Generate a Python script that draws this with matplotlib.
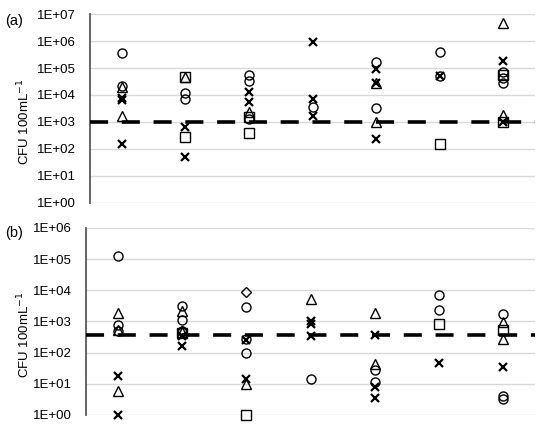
import numpy as np
import matplotlib.pyplot as plt

plt.rcParams['font.family'] = ['Liberation Sans', 'DejaVu Sans']

# sampling sites 1..7 (no labels on the x axis)
n_sites = 7

# panel (a) values, CFU 100mL-1
a_circle_x = [1, 1, 2, 2, 3, 3, 3, 4, 5, 5, 6, 6, 7, 7, 7]
a_circle_y = [3.5e5, 2.1e4, 1.15e4, 7e3, 5.5e4, 3.4e4, 1.3e3, 3.5e3, 1.7e5, 3.2e3, 4e5, 5e4, 7.2e4, 4.4e4, 2.7e4]
a_tri_x = [1, 1, 2, 3, 5, 5, 7, 7]
a_tri_y = [1.9e4, 1.6e3, 4.8e4, 2.3e3, 2.8e4, 1e3, 4.5e6, 1.8e3]
a_sq_x = [2, 2, 3, 3, 6, 7, 7]
a_sq_y = [4.8e4, 270, 1.5e3, 380, 150, 5.5e4, 1e3]
a_x_x = [1, 1, 1, 2, 2, 3, 3, 4, 4, 4, 5, 5, 5, 6, 7, 7]
a_x_y = [8e3, 6.6e3, 155, 680, 52, 1.3e4, 5.5e3, 9e5, 6.9e3, 1.7e3, 8.9e4, 2.8e4, 230, 5.2e4, 1.85e5, 1e3]
a_limit = 1e3

# panel (b) values
b_circle_x = [1, 1, 1, 2, 2, 2, 3, 3, 3, 4, 5, 5, 6, 6, 7, 7, 7]
b_circle_y = [1.3e5, 780, 500, 3.2e3, 1.1e3, 500, 2.9e3, 275, 96, 14, 28, 11, 7.2e3, 2.4e3, 1.7e3, 4, 3.2]
b_tri_x = [1, 1, 1, 2, 2, 3, 4, 5, 5, 7, 7]
b_tri_y = [1.85e3, 550, 6, 2.2e3, 450, 9.5, 5.3e3, 1.8e3, 44, 940, 280]
b_sq_x = [2, 3, 6, 7]
b_sq_y = [420, 1, 830, 540]
b_dia_x = [2, 3]
b_dia_y = [480, 8.7e3]
b_x_x = [1, 1, 2, 2, 3, 3, 4, 4, 4, 5, 5, 5, 6, 7]
b_x_y = [18, 1, 330, 160, 260, 14, 1e3, 810, 350, 380, 8, 3.4, 46, 35]
b_limit = 370

fig = plt.figure(figsize=(5.5, 4.3), dpi=100)
ax_a = fig.add_axes([0.1636, 0.528, 0.8094, 0.4394])
ax_b = fig.add_axes([0.1564, 0.035, 0.8166, 0.435])


def draw(ax, series, limit, ymax, label_x):
    ax.set_yscale('log')
    ax.set_ylim(1, ymax)
    ax.set_xlim(0.5, n_sites + 0.5)
    ax.axhline(limit, color='black', lw=2.6, dashes=(5, 3.8), zorder=3)
    for xs, ys, m in series:
        if m == 'x':
            ax.plot(xs, ys, ls='none', marker='x', ms=6, mew=1.6, color='black',
                    zorder=4, clip_on=False)
        else:
            ax.plot(xs, ys, ls='none', marker=m, ms=6.5 if m != 'D' else 5,
                    mfc='none', mec='black', mew=1.0, zorder=4, clip_on=False)
    ticks = [10.0 ** k for k in range(int(np.log10(ymax)) + 1)]
    ax.set_yticks(ticks)
    ax.set_yticklabels(['1E+%02d' % k for k in range(len(ticks))], fontsize=9.5)
    ax.minorticks_off()
    ax.yaxis.grid(True, color='#d9d9d9', lw=1)
    ax.set_axisbelow(True)
    ax.set_xticks([])
    for s in ['top', 'right', 'bottom']:
        ax.spines[s].set_visible(False)
    ax.spines['left'].set_color('#595959')
    ax.spines['left'].set_linewidth(1.3)
    ax.tick_params(axis='y', length=0, pad=10, colors='black')
    ax.set_ylabel('CFU 100mL$^{-1}$', fontsize=9.5)
    ax.yaxis.set_label_coords(label_x, 0.43)


draw(ax_a, [(a_circle_x, a_circle_y, 'o'), (a_tri_x, a_tri_y, '^'),
            (a_sq_x, a_sq_y, 's'), (a_x_x, a_x_y, 'x')], a_limit, 1e7, -0.13)
draw(ax_b, [(b_circle_x, b_circle_y, 'o'), (b_tri_x, b_tri_y, '^'),
            (b_sq_x, b_sq_y, 's'), (b_dia_x, b_dia_y, 'D'), (b_x_x, b_x_y, 'x')], b_limit, 1e6, -0.12)

fig.text(0.01, 0.951, '(a)', fontsize=10.5, va='center')
fig.text(0.01, 0.458, '(b)', fontsize=10.5, va='center')

fig.savefig('out.png', dpi=100)
